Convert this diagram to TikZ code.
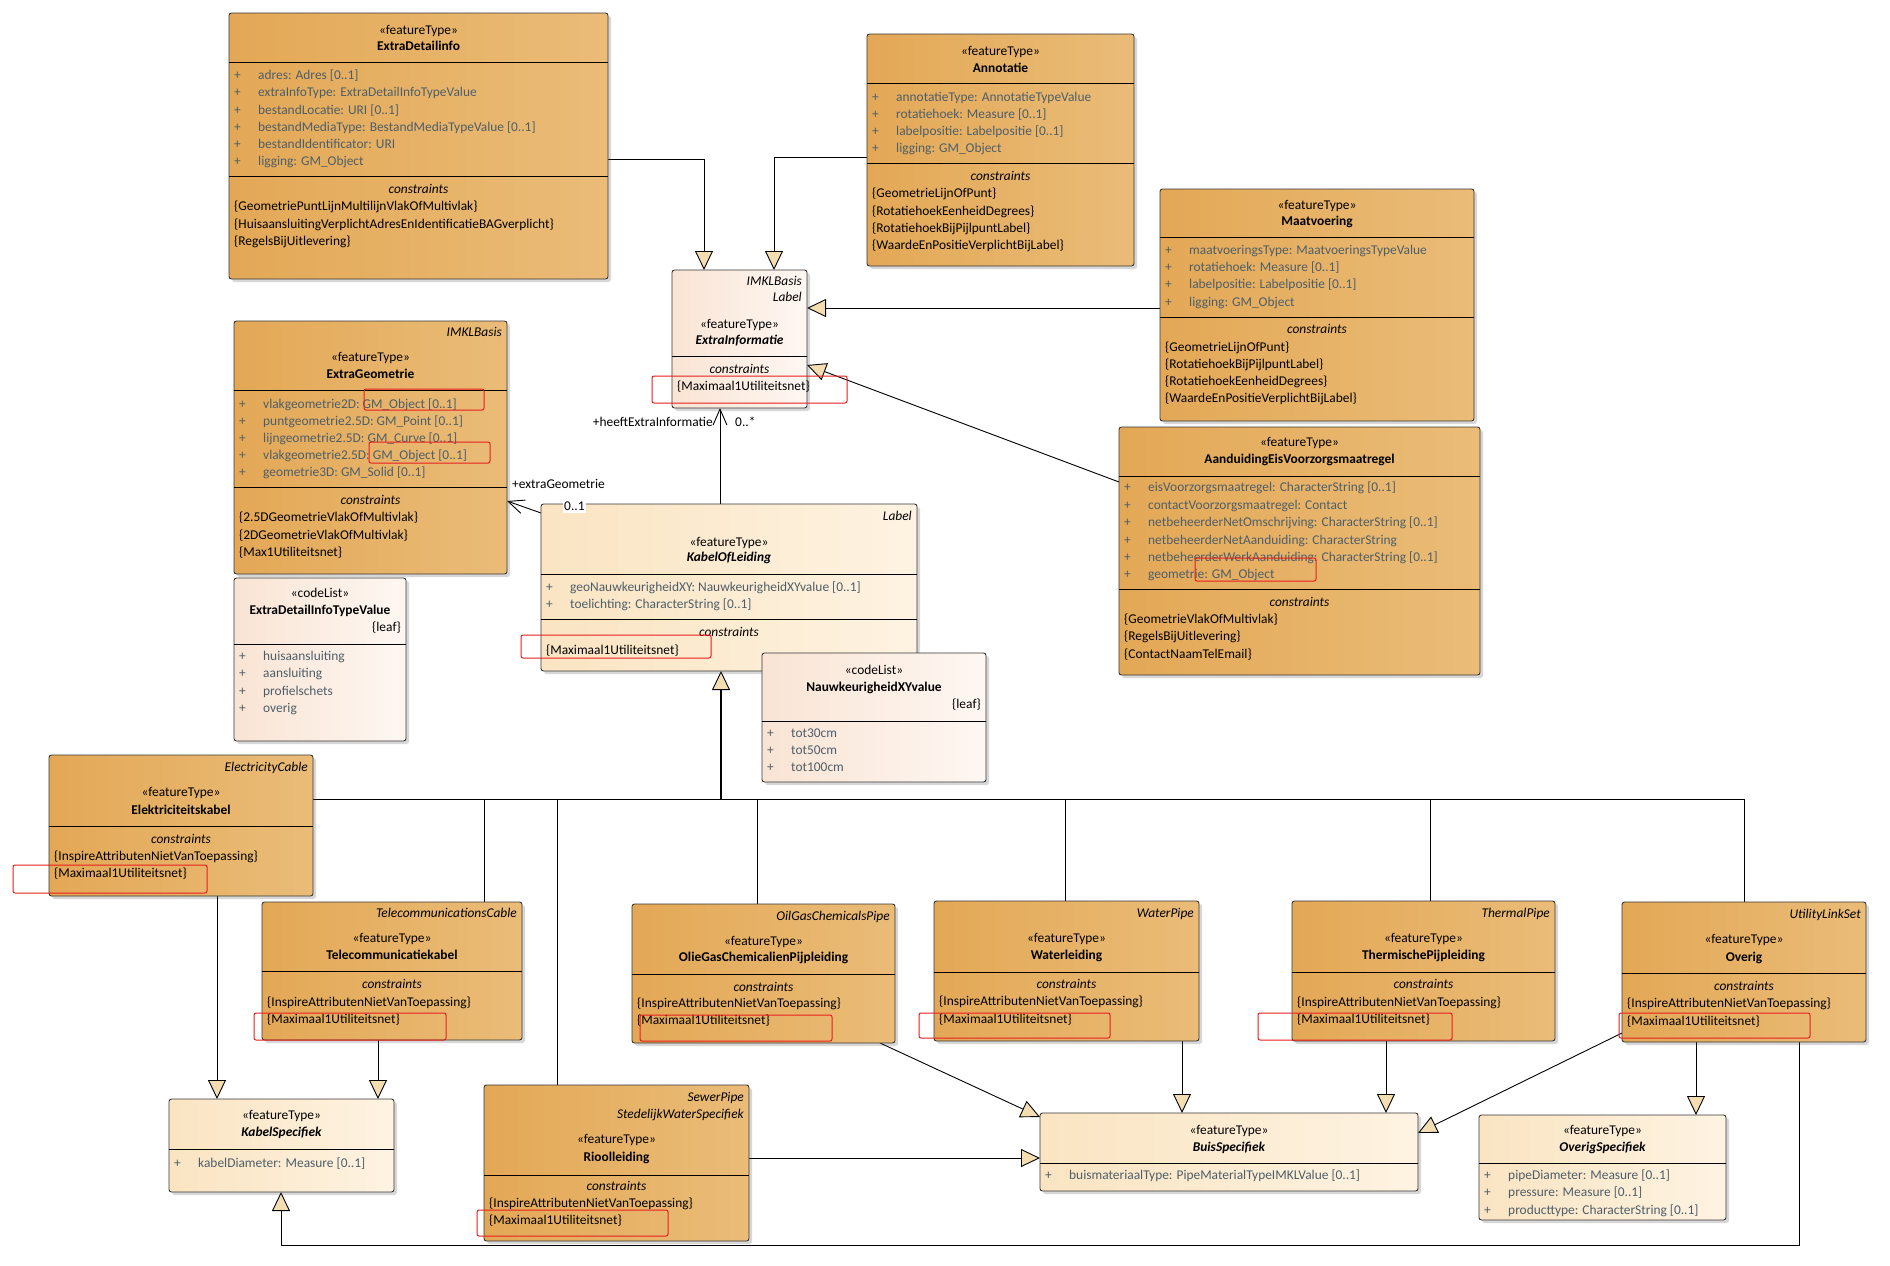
\documentclass[tikz,border=0pt]{standalone}
\usepackage{fontspec}
\setmainfont{Carlito}
\usetikzlibrary{arrows.meta,shadows,calc}
\pgfdeclarelayer{back}
\pgfdeclarelayer{bg}
\pgfsetlayers{back,bg,main}

\definecolor{orL}{RGB}{227,168,86}
\definecolor{orR}{RGB}{234,188,120}
\definecolor{ltL}{RGB}{249,228,212}
\definecolor{ltR}{RGB}{254,247,242}
\definecolor{crL}{RGB}{250,228,194}
\definecolor{crR}{RGB}{254,243,226}
\definecolor{attrc}{RGB}{78,94,104}
\definecolor{genfill}{RGB}{245,221,178}
\definecolor{markred}{RGB}{232,30,30}
\definecolor{boxline}{RGB}{55,55,55}

\tikzset{
 cls/.style={draw=boxline, line width=0.9pt, rounded corners=2.5pt, anchor=north west, inner sep=0pt, outer sep=0pt,
   drop shadow={opacity=0.22, shadow xshift=3pt, shadow yshift=-3pt, fill=black!70}},
 orangebox/.style={cls, left color=orL, right color=orR},
 lightbox/.style={cls, left color=ltL, right color=ltR},
 creambox/.style={cls, left color=crL, right color=crR},
 txt/.style={inner sep=0pt, text height=9.5pt, text depth=3pt, font=\fontsize{13.4}{16}\selectfont},
 txtb/.style={txt, font=\fontsize{13.4}{16}\selectfont\bfseries},
 txti/.style={txt, font=\fontsize{13.4}{16}\selectfont\itshape},
 txtbi/.style={txt, font=\fontsize{13.4}{16}\selectfont\bfseries\itshape},
 sepline/.style={draw=black, line width=0.9pt},
 conn/.style={draw=black, line width=0.9pt},
 gen/.style={conn, -{Triangle[length=19pt,width=18pt,fill=genfill]}},
 genthick/.style={draw=black, line width=1.8pt, -{Triangle[length=19pt,width=18pt,fill=genfill,line width=0.9pt]}},
 assoc/.style={conn, -{Straight Barb[length=16pt,width=14pt]}},
 redmark/.style={draw=markred, line width=1pt, rounded corners=2pt},
}

\newcommand\umlsep[2]{\draw[sepline] (#1.west |- 0,#2) -- (#1.east |- 0,#2);}
\newcommand\umlhead[6]{\node[txt] (#1-st) at (#1.north |- 0,#2) {«#4»};\node[#6] (#1-nm) at (#1.north |- 0,#3) {#5};}
\newcommand\umlattr[4]{\node[txt,anchor=west,text=attrc] (#1-a#2) at ($(#1.west |- 0,#3)+(5,0)$) {\makebox[24pt][l]{+}#4};}
\newcommand\umlctitle[2]{\node[txti] (#1-ct) at (#1.north |- 0,#2) {constraints};}
\newcommand\umlcons[4]{\node[txt,anchor=west] (#1-c#2) at ($(#1.west |- 0,#3)+(5,0)$) {#4};}
\newcommand\umlright[5]{\node[#5,anchor=east] (#1-#2) at ($(#1.east |- 0,#3)+(-5,0)$) {#4};}

\begin{document}
\begin{tikzpicture}[x=1pt,y=-1pt]
\begin{pgfonlayer}{back}
\fill[white] (0,0) rectangle (1890,1266);
\end{pgfonlayer}
\useasboundingbox (0,0) rectangle (1890,1266);

% ---------------- boxes ----------------
\node[orangebox, minimum width=379pt, minimum height=266pt] (ED) at (229,13) {};
\node[orangebox, minimum width=267pt, minimum height=232pt] (AN) at (867,34) {};
\node[orangebox, minimum width=314pt, minimum height=232pt] (MV) at (1160,189) {};
\node[lightbox, minimum width=135pt, minimum height=138pt] (EI) at (672,270) {};
\node[orangebox, minimum width=273pt, minimum height=253pt] (EG) at (234,321) {};
\node[lightbox, minimum width=172pt, minimum height=163pt] (EDT) at (234,578) {};
\node[creambox, minimum width=376pt, minimum height=167pt] (KL) at (541,504) {};
\node[lightbox, minimum width=224pt, minimum height=129pt] (NXY) at (762,653) {};
\node[orangebox, minimum width=361pt, minimum height=248pt] (AE) at (1119,427) {};
\node[orangebox, minimum width=264pt, minimum height=141pt] (EK) at (49,755) {};
\node[orangebox, minimum width=260pt, minimum height=138pt] (TK) at (262,902) {};
\node[orangebox, minimum width=263pt, minimum height=139pt] (OG) at (632,904) {};
\node[orangebox, minimum width=265pt, minimum height=140pt] (WL) at (934,901) {};
\node[orangebox, minimum width=263pt, minimum height=140pt] (TP) at (1292,901) {};
\node[orangebox, minimum width=244pt, minimum height=140pt] (OV) at (1622,902) {};
\node[orangebox, minimum width=265pt, minimum height=156pt] (RL) at (484,1085) {};
\node[creambox, minimum width=225pt, minimum height=93pt] (KS) at (169,1099) {};
\node[creambox, minimum width=378pt, minimum height=78pt] (BS) at (1040,1113) {};
\node[creambox, minimum width=247pt, minimum height=105pt] (OS) at (1479,1115) {};

% ---------------- ExtraDetailinfo ----------------
\umlsep{ED}{62}\umlsep{ED}{176}
\umlhead{ED}{31}{47}{featureType}{ExtraDetailinfo}{txtb}
\umlattr{ED}{1}{76}{adres: Adres [0..1]}
\umlattr{ED}{2}{93}{extraInfoType: ExtraDetailInfoTypeValue}
\umlattr{ED}{3}{111}{bestandLocatie: URI [0..1]}
\umlattr{ED}{4}{128}{bestandMediaType: BestandMediaTypeValue [0..1]}
\umlattr{ED}{5}{145}{bestandIdentificator: URI}
\umlattr{ED}{6}{162}{ligging: GM\_Object}
\umlctitle{ED}{190}
\umlcons{ED}{1}{207}{\{GeometriePuntLijnMultilijnVlakOfMultivlak\}}
\umlcons{ED}{2}{225}{\{HuisaansluitingVerplichtAdresEnIdentificatieBAGverplicht\}}
\umlcons{ED}{3}{242}{\{RegelsBijUitlevering\}}

% ---------------- Annotatie ----------------
\umlsep{AN}{83}\umlsep{AN}{163}
\umlhead{AN}{52}{69}{featureType}{Annotatie}{txtb}
\umlattr{AN}{1}{98}{annotatieType: AnnotatieTypeValue}
\umlattr{AN}{2}{115}{rotatiehoek: Measure [0..1]}
\umlattr{AN}{3}{132}{labelpositie: Labelpositie [0..1]}
\umlattr{AN}{4}{149}{ligging: GM\_Object}
\umlctitle{AN}{177}
\umlcons{AN}{1}{194}{\{GeometrieLijnOfPunt\}}
\umlcons{AN}{2}{212}{\{RotatiehoekEenheidDegrees\}}
\umlcons{AN}{3}{229}{\{RotatiehoekBijPijlpuntLabel\}}
\umlcons{AN}{4}{246}{\{WaardeEnPositieVerplichtBijLabel\}}

% ---------------- Maatvoering ----------------
\umlsep{MV}{237}\umlsep{MV}{317}
\umlhead{MV}{206}{222}{featureType}{Maatvoering}{txtb}
\umlattr{MV}{1}{251}{maatvoeringsType: MaatvoeringsTypeValue}
\umlattr{MV}{2}{268}{rotatiehoek: Measure [0..1]}
\umlattr{MV}{3}{285}{labelpositie: Labelpositie [0..1]}
\umlattr{MV}{4}{303}{ligging: GM\_Object}
\umlctitle{MV}{330}
\umlcons{MV}{1}{348}{\{GeometrieLijnOfPunt\}}
\umlcons{MV}{2}{365}{\{RotatiehoekBijPijlpuntLabel\}}
\umlcons{MV}{3}{382}{\{RotatiehoekEenheidDegrees\}}
\umlcons{MV}{4}{399}{\{WaardeEnPositieVerplichtBijLabel\}}

% ---------------- ExtraInformatie ----------------
\umlsep{EI}{356}
\umlright{EI}{p1}{282}{IMKLBasis}{txti}
\umlright{EI}{p2}{298}{Label}{txti}
\umlhead{EI}{325}{341}{featureType}{ExtraInformatie}{txtbi}
\umlctitle{EI}{370}
\umlcons{EI}{1}{387}{\{Maximaal1Utiliteitsnet\}}

% ---------------- ExtraGeometrie ----------------
\umlsep{EG}{390}\umlsep{EG}{487}
\umlright{EG}{p1}{333}{IMKLBasis}{txti}
\umlhead{EG}{358}{375}{featureType}{ExtraGeometrie}{txtb}
\umlattr{EG}{1}{405}{vlakgeometrie2D: GM\_Object [0..1]}
\umlattr{EG}{2}{422}{puntgeometrie2.5D: GM\_Point [0..1]}
\umlattr{EG}{3}{439}{lijngeometrie2.5D: GM\_Curve [0..1]}
\umlattr{EG}{4}{456}{vlakgeometrie2.5D: GM\_Object [0..1]}
\umlattr{EG}{5}{473}{geometrie3D: GM\_Solid [0..1]}
\umlctitle{EG}{501}
\umlcons{EG}{1}{518}{\{2.5DGeometrieVlakOfMultivlak\}}
\umlcons{EG}{2}{536}{\{2DGeometrieVlakOfMultivlak\}}
\umlcons{EG}{3}{553}{\{Max1Utiliteitsnet\}}

% ---------------- ExtraDetailInfoTypeValue ----------------
\umlsep{EDT}{644}
\umlhead{EDT}{594}{611}{codeList}{ExtraDetailInfoTypeValue}{txtb}
\umlright{EDT}{leaf}{628}{\{leaf\}}{txt}
\umlattr{EDT}{1}{657}{huisaansluiting}
\umlattr{EDT}{2}{674}{aansluiting}
\umlattr{EDT}{3}{692}{profielschets}
\umlattr{EDT}{4}{709}{overig}

% ---------------- KabelOfLeiding ----------------
\umlsep{KL}{574}\umlsep{KL}{619}
\umlright{KL}{p1}{517}{Label}{txti}
\umlhead{KL}{543}{558}{featureType}{KabelOfLeiding}{txtbi}
\umlattr{KL}{1}{588}{geoNauwkeurigheidXY: NauwkeurigheidXYvalue [0..1]}
\umlattr{KL}{2}{605}{toelichting: CharacterString [0..1]}
\umlctitle{KL}{633}
\umlcons{KL}{1}{651}{\{Maximaal1Utiliteitsnet\}}

% ---------------- NauwkeurigheidXYvalue ----------------
\umlsep{NXY}{721}
\umlhead{NXY}{671}{688}{codeList}{NauwkeurigheidXYvalue}{txtb}
\umlright{NXY}{leaf}{705}{\{leaf\}}{txt}
\umlattr{NXY}{1}{734}{tot30cm}
\umlattr{NXY}{2}{751}{tot50cm}
\umlattr{NXY}{3}{768}{tot100cm}

% ---------------- AanduidingEisVoorzorgsmaatregel ----------------
\umlsep{AE}{476}\umlsep{AE}{589}
\umlhead{AE}{443}{460}{featureType}{AanduidingEisVoorzorgsmaatregel}{txtb}
\umlattr{AE}{1}{488}{eisVoorzorgsmaatregel: CharacterString [0..1]}
\umlattr{AE}{2}{506}{contactVoorzorgsmaatregel: Contact}
\umlattr{AE}{3}{523}{netbeheerderNetOmschrijving: CharacterString [0..1]}
\umlattr{AE}{4}{541}{netbeheerderNetAanduiding: CharacterString}
\umlattr{AE}{5}{558}{netbeheerderWerkAanduiding: CharacterString [0..1]}
\umlattr{AE}{6}{575}{geometrie: GM\_Object}
\umlctitle{AE}{603}
\umlcons{AE}{1}{620}{\{GeometrieVlakOfMultivlak\}}
\umlcons{AE}{2}{637}{\{RegelsBijUitlevering\}}
\umlcons{AE}{3}{655}{\{ContactNaamTelEmail\}}

% ---------------- Elektriciteitskabel ----------------
\umlsep{EK}{826}
\umlright{EK}{p1}{768}{ElectricityCable}{txti}
\umlhead{EK}{793}{811}{featureType}{Elektriciteitskabel}{txtb}
\umlctitle{EK}{840}
\umlcons{EK}{1}{857}{\{InspireAttributenNietVanToepassing\}}
\umlcons{EK}{2}{874}{\{Maximaal1Utiliteitsnet\}}

% ---------------- Telecommunicatiekabel ----------------
\umlsep{TK}{971}
\umlright{TK}{p1}{914}{TelecommunicationsCable}{txti}
\umlhead{TK}{939}{956}{featureType}{Telecommunicatiekabel}{txtb}
\umlctitle{TK}{985}
\umlcons{TK}{1}{1003}{\{InspireAttributenNietVanToepassing\}}
\umlcons{TK}{2}{1020}{\{Maximaal1Utiliteitsnet\}}

% ---------------- OlieGasChemicalienPijpleiding ----------------
\umlsep{OG}{974}
\umlright{OG}{p1}{917}{OilGasChemicalsPipe}{txti}
\umlhead{OG}{942}{958}{featureType}{OlieGasChemicalienPijpleiding}{txtb}
\umlctitle{OG}{988}
\umlcons{OG}{1}{1004}{\{InspireAttributenNietVanToepassing\}}
\umlcons{OG}{2}{1021}{\{Maximaal1Utiliteitsnet\}}

% ---------------- Waterleiding ----------------
\umlsep{WL}{972}
\umlright{WL}{p1}{914}{WaterPipe}{txti}
\umlhead{WL}{939}{956}{featureType}{Waterleiding}{txtb}
\umlctitle{WL}{985}
\umlcons{WL}{1}{1002}{\{InspireAttributenNietVanToepassing\}}
\umlcons{WL}{2}{1020}{\{Maximaal1Utiliteitsnet\}}

% ---------------- ThermischePijpleiding ----------------
\umlsep{TP}{972}
\umlright{TP}{p1}{914}{ThermalPipe}{txti}
\umlhead{TP}{939}{956}{featureType}{ThermischePijpleiding}{txtb}
\umlctitle{TP}{985}
\umlcons{TP}{1}{1003}{\{InspireAttributenNietVanToepassing\}}
\umlcons{TP}{2}{1020}{\{Maximaal1Utiliteitsnet\}}

% ---------------- Overig ----------------
\umlsep{OV}{973}
\umlright{OV}{p1}{915}{UtilityLinkSet}{txti}
\umlhead{OV}{940}{958}{featureType}{Overig}{txtb}
\umlctitle{OV}{987}
\umlcons{OV}{1}{1004}{\{InspireAttributenNietVanToepassing\}}
\umlcons{OV}{2}{1022}{\{Maximaal1Utiliteitsnet\}}

% ---------------- Rioolleiding ----------------
\umlsep{RL}{1175}
\umlright{RL}{p1}{1098}{SewerPipe}{txti}
\umlright{RL}{p2}{1115}{StedelijkWaterSpecifiek}{txti}
\umlhead{RL}{1140}{1158}{featureType}{Rioolleiding}{txtb}
\umlctitle{RL}{1187}
\umlcons{RL}{1}{1204}{\{InspireAttributenNietVanToepassing\}}
\umlcons{RL}{2}{1221}{\{Maximaal1Utiliteitsnet\}}

% ---------------- Specifiek boxes ----------------
\umlsep{KS}{1149}
\umlhead{KS}{1116}{1133}{featureType}{KabelSpecifiek}{txtbi}
\umlattr{KS}{1}{1164}{kabelDiameter: Measure [0..1]}

\umlsep{BS}{1163}
\umlhead{BS}{1131}{1148}{featureType}{BuisSpecifiek}{txtbi}
\umlattr{BS}{1}{1176}{buismateriaalType: PipeMaterialTypeIMKLValue [0..1]}

\umlsep{OS}{1163}
\umlhead{OS}{1131}{1148}{featureType}{OverigSpecifiek}{txtbi}
\umlattr{OS}{1}{1176}{pipeDiameter: Measure [0..1]}
\umlattr{OS}{2}{1193}{pressure: Measure [0..1]}
\umlattr{OS}{3}{1211}{producttype: CharacterString [0..1]}

% ---------------- connectors ----------------
\coordinate (bus) at (0,799);
\coordinate (klb) at ($(KL.south west)+(180,0)$);
\coordinate (loop) at (1799,1245);
\begin{pgfonlayer}{bg}
\draw[gen] (ED.east |- 0,159) -| ($(EI.north west)+(32,0)$);
\draw[gen] (AN.west |- 0,157) -| ($(EI.north west)+(102,0)$);
\draw[gen] (MV.west |- 0,308) -- (EI.east |- 0,308);
\draw[gen] (AE.west |- 0,482) -- (EI.east |- 0,365);
\draw[assoc] ($(KL.north west)+(179,0)$) -- ($(EI.south west)+(48,0)$);
\draw[assoc] (KL.west |- 0,513) -- (EG.east |- 0,501);
% generalisation bus
\draw[genthick] (klb |- bus) -- (klb);
\draw[conn] (EK.east |- bus) -- (OV.north |- bus);
\draw[conn] (TK.north -| 484,0) -- (bus -| 484,0);
\draw[conn] (RL.north -| 557,0) -- (bus -| 557,0);
\draw[conn] (OG.north -| 757,0) -- (bus -| 757,0);
\draw[conn] (WL.north -| 1065,0) -- (bus -| 1065,0);
\draw[conn] (TP.north -| 1430,0) -- (bus -| 1430,0);
\draw[conn] (OV.north) -- (OV.north |- bus);
% specialisations
\draw[gen] (EK.south -| 217,0) -- (KS.north -| 217,0);
\draw[gen] (TK.south -| 378,0) -- (KS.north -| 378,0);
\draw[gen] (OG.south -| 880,0) -- (BS.west |- 0,1117);
\draw[gen] (WL.south -| 1182,0) -- (BS.north -| 1182,0);
\draw[gen] (TP.south -| 1386,0) -- (BS.north -| 1386,0);
\draw[gen] (OV.west |- 0,1033) -- (BS.east |- 0,1133);
\draw[gen] (RL.east |- 0,1158) -- (BS.west |- 0,1158);
\draw[gen] (OV.south -| 1696,0) -- (OS.north -| 1696,0);
\draw[gen] (OV.south -| 1799,0) -- (loop) -| (KS.south -| 281,0);
\end{pgfonlayer}

% connector labels
\node[txt,anchor=east] (lblHEI) at (713,423) {+heeftExtraInformatie};
\node[txt,anchor=west] (lblHEIm) at (735,423) {0..*};
\node[txt,anchor=west] (lblEG) at (512,485) {+extraGeometrie};
\node[txt,anchor=west,fill=white,inner xsep=1pt] (lblEGm) at (563,507) {0..1};

% ---------------- red marks ----------------
\draw[redmark] (652,376) rectangle (847,403);
\draw[redmark] (364,389) rectangle (484,410);
\draw[redmark] (369,442) rectangle (490,463);
\draw[redmark] (521,635) rectangle (711,658);
\draw[redmark] (1195,558) rectangle (1316,581);
\draw[redmark] (13,865) rectangle (207,893);
\draw[redmark] (254,1013) rectangle (446,1040);
\draw[redmark] (640,1015) rectangle (832,1041);
\draw[redmark] (919,1013) rectangle (1110,1038);
\draw[redmark] (1258,1013) rectangle (1452,1040);
\draw[redmark] (1619,1013) rectangle (1810,1038);
\draw[redmark] (477,1210) rectangle (668,1236);
\end{tikzpicture}
\end{document}
